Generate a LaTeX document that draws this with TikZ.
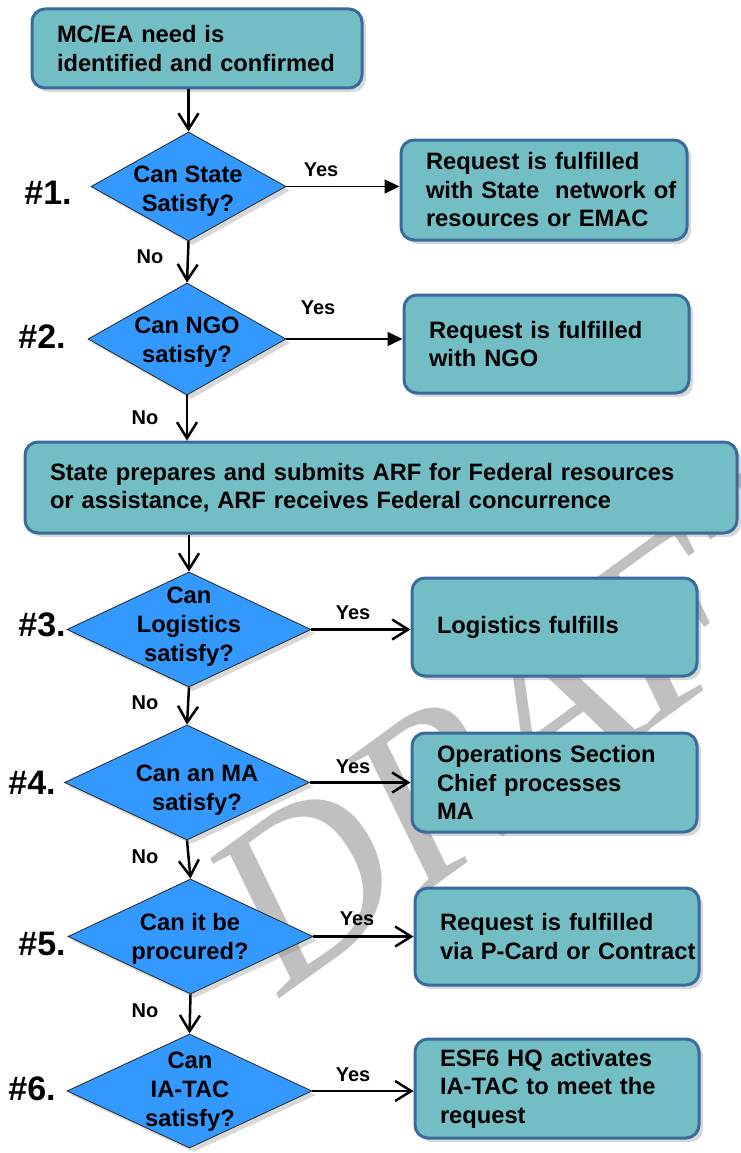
\documentclass[tikz,border=0pt]{standalone}
\usepackage{fontspec}
\setmainfont{Liberation Sans}
\newfontfamily\draftfont{Liberation Serif}
\usetikzlibrary{calc,positioning,shapes,arrows.meta,shadows}
\definecolor{boxfill}{HTML}{72BEC4}
\definecolor{boxline}{HTML}{3A6A9E}
\definecolor{askfill}{HTML}{3399FF}
\definecolor{draftgray}{HTML}{C0C0C0}

\begin{document}
\begin{tikzpicture}[x=1pt,y=-1pt,
	box/.style={draw=boxline,line width=3pt,fill=boxfill,rounded corners=13pt,align=left,inner xsep=25pt,inner ysep=0pt,font=\fontsize{23.7}{28.5}\selectfont\bfseries,drop shadow={shadow xshift=4pt,shadow yshift=-4pt,opacity=0.3}},
	ask/.style={shape=diamond,draw=black!85,line width=0.8pt,fill=askfill,inner sep=0pt,drop shadow={shadow xshift=4pt,shadow yshift=-4pt,opacity=0.3}},
	asktext/.style={align=center,font=\fontsize{23.7}{29}\selectfont\bfseries},
	num/.style={font=\fontsize{34}{34}\selectfont\bfseries},
	answer/.style={font=\fontsize{20}{20}\selectfont\bfseries},
	yesfill/.style={line width=1.5pt,-{Triangle[length=15pt,width=14pt]}},
	flow/.style={line width=2.5pt,-{Straight Barb[length=16pt,width=20pt]}}]
	\useasboundingbox (0,0) rectangle (741,1153);
	\fill[white] (0,0) rectangle (741,1153);
	\node[text=draftgray,rotate=36,font=\fontsize{235}{235}\selectfont\draftfont\itshape] (draft) at (532,720) {DRAFT};

	\node[box,text width=280pt,minimum height=79pt] (need) at (197,48.5) {MC/EA need is\\identified and confirmed};

	\node[ask,minimum width=195pt,minimum height=109pt] (canstate) at (188.5,186.5) {};
	\node[asktext] (canstatetext) at (188,191) {Can State\\Satisfy?};
	\node[num] (num1) at (48,193) {\#1.};
	\node[box,text width=236pt,minimum height=100pt] (bystate) at (544,190) {Request is fulfilled\\\mbox{with State~~network of}\\resources or EMAC};

	\node[ask,minimum width=198pt,minimum height=112pt] (canngo) at (187,339) {};
	\node[asktext] (canngotext) at (187,342) {Can NGO\\satisfy?};
	\node[num] (num2) at (42,337) {\#2.};
	\node[box,text width=235pt,minimum height=98pt] (byngo) at (546.5,344) {Request is fulfilled\\with NGO};

	\node[box,text width=662pt,minimum height=91pt] (arf) at (381,487.5) {State prepares and submits ARF for Federal resources\\or assistance, ARF receives Federal concurrence};

	\node[ask,minimum width=244pt,minimum height=115pt] (canlog) at (189,629.5) {};
	\node[asktext] (canlogtext) at (189,627) {Can\\Logistics\\satisfy?};
	\node[num] (num3) at (42,625) {\#3.};
	\node[box,text width=235pt,minimum height=98pt] (bylog) at (554.5,627) {Logistics fulfills};

	\node[ask,minimum width=245pt,minimum height=115pt] (canma) at (187,782.5) {};
	\node[asktext] (canmatext) at (197,790) {Can an MA\\satisfy?};
	\node[num] (num4) at (32,783) {\#4.};
	\node[box,text width=235pt,minimum height=99pt] (byops) at (554.5,782.5) {Operations Section\\Chief processes\\MA};

	\node[ask,minimum width=245pt,minimum height=115pt] (canproc) at (190.5,936.5) {};
	\node[asktext] (canproctext) at (190,939) {Can it be\\procured?};
	\node[num] (num5) at (42,944) {\#5.};
	\node[box,text width=234pt,minimum height=97pt] (bycard) at (557,936.5) {Request is fulfilled\\\mbox{via P-Card or Contract}};

	\node[ask,minimum width=245pt,minimum height=114pt] (caniatac) at (189.5,1091) {};
	\node[asktext] (caniatactext) at (190,1092) {Can\\IA-TAC\\satisfy?};
	\node[num] (num6) at (32,1089) {\#6.};
	\node[box,text width=234pt,minimum height=99pt] (byiatac) at (557,1088.5) {ESF6 HQ activates\\IA-TAC to meet the\\request};

	\draw[flow] (need.south -| canstate.north) -- (canstate.north);
	\draw[yesfill] (canstate.east) -- (canstate.east -| bystate.west);
	\draw[flow] (canstate.south) -- (canngo.north);
	\draw[yesfill] (canngo.east) -- (canngo.east -| byngo.west);
	\draw[flow] (canngo.south) -- (canngo.south |- arf.north);
	\draw[flow] (arf.south -| canlog.north) -- (canlog.north);
	\draw[flow] (canlog.east) -- (canlog.east -| bylog.west);
	\draw[flow] (canlog.south) -- (canma.north);
	\draw[flow] (canma.east) -- (canma.east -| byops.west);
	\draw[flow] (canma.south) -- (canproc.north);
	\draw[flow] (canproc.east) -- (canproc.east -| bycard.west);
	\draw[flow] (canproc.south) -- (caniatac.north);
	\draw[flow] (caniatac.east) -- (caniatac.east -| byiatac.west);

	\node[answer] (yes1) at (321,170) {Yes};
	\node[answer] (no1) at (150,257) {No};
	\node[answer] (yes2) at (318,308) {Yes};
	\node[answer] (no2) at (145,418) {No};
	\node[answer] (yes3) at (353,613) {Yes};
	\node[answer] (no3) at (145,703) {No};
	\node[answer] (yes4) at (353,767) {Yes};
	\node[answer] (no4) at (145,857) {No};
	\node[answer] (yes5) at (357,919) {Yes};
	\node[answer] (no5) at (145,1011) {No};
	\node[answer] (yes6) at (353,1075) {Yes};
\end{tikzpicture}
\end{document}
